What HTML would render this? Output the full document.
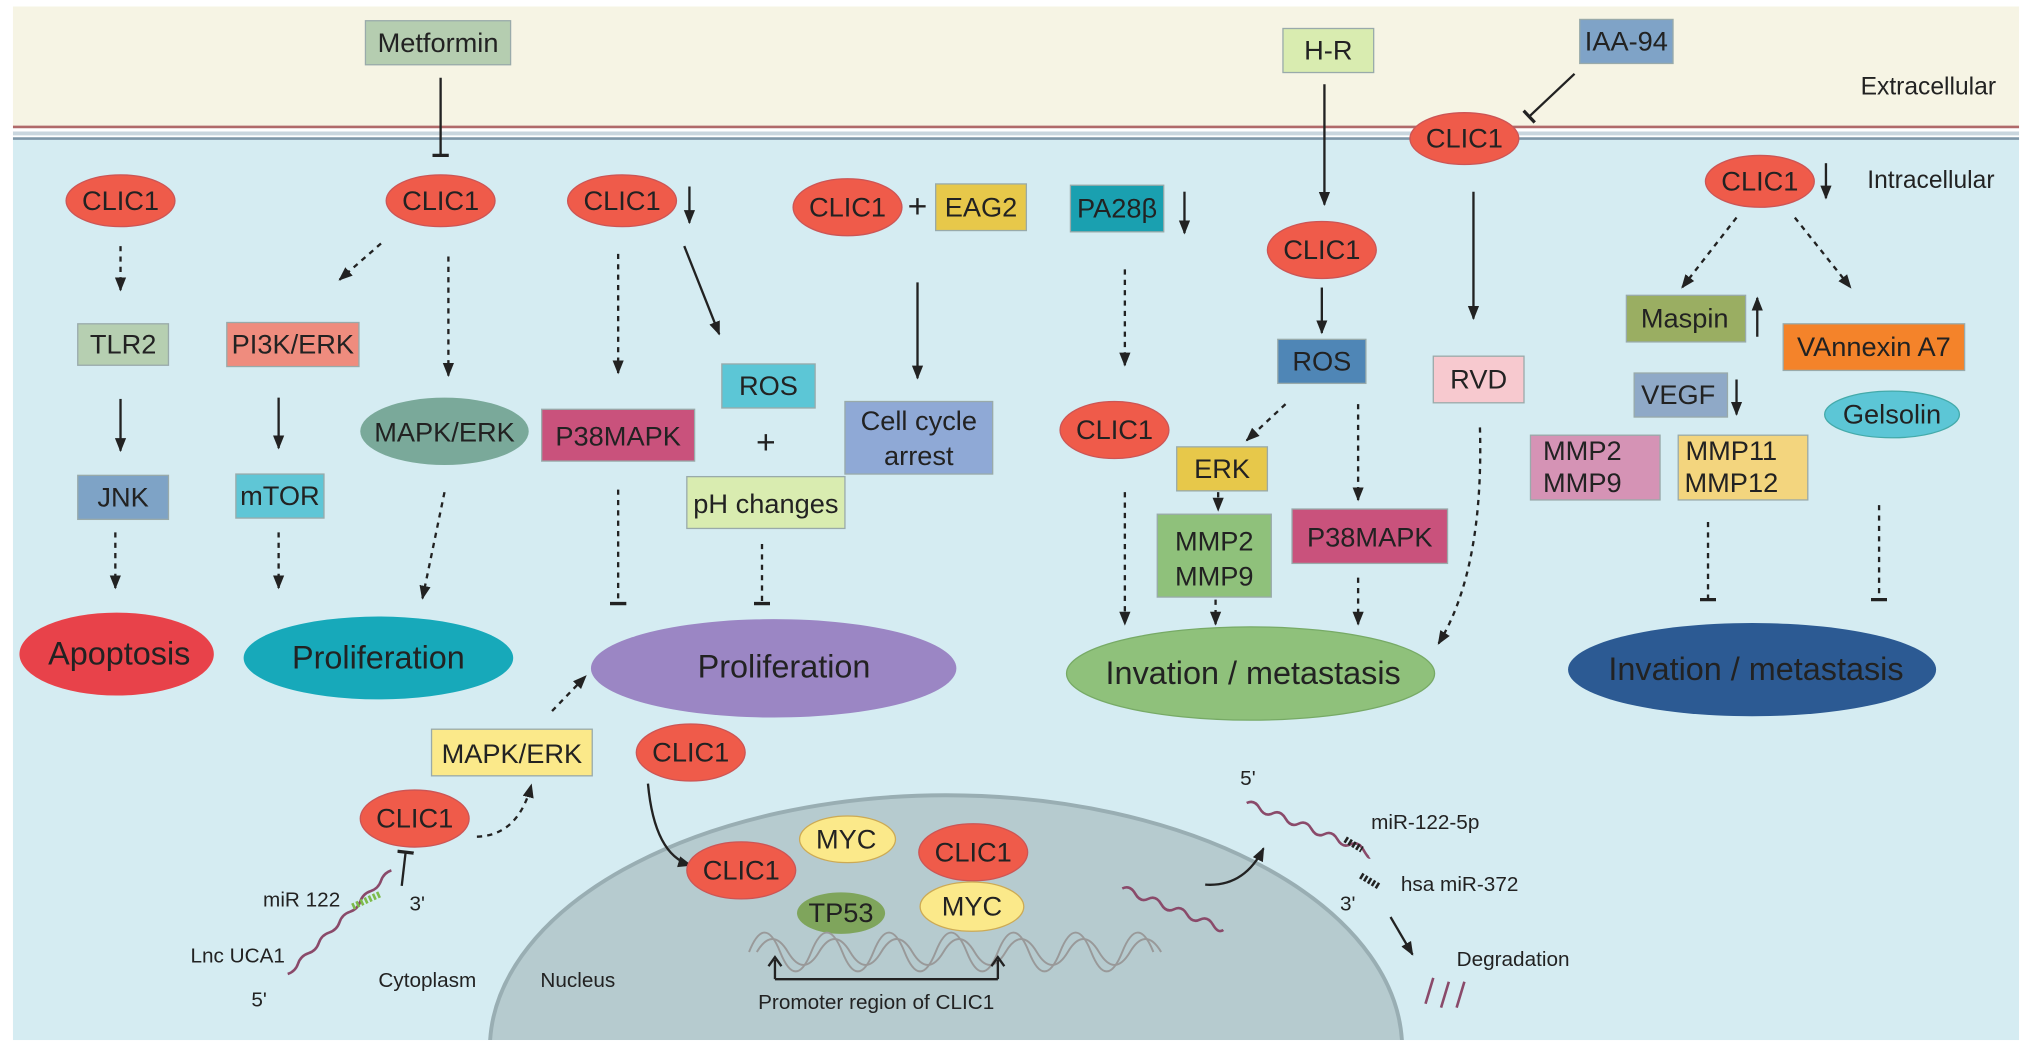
<!DOCTYPE html>
<html><head><meta charset="utf-8"><style>
html,body{margin:0;padding:0;background:#fff;width:2032px;height:1053px;overflow:hidden;}
svg{display:block;}
text{font-family:"Liberation Sans",Arial,sans-serif;fill:#222;}
</style></head><body>
<svg width="2032" height="1053" viewBox="0 0 1568 813" preserveAspectRatio="none" xmlns="http://www.w3.org/2000/svg">
<defs>
<marker id="ah" viewBox="0 0 10 10" refX="9" refY="5" markerWidth="6" markerHeight="6" orient="auto-start-reverse"><path d="M0,1 L10,5 L0,9 z" fill="#222"/></marker>
<marker id="tb" viewBox="0 0 10 10" refX="5" refY="5" markerWidth="7" markerHeight="7" orient="auto"><path d="M5,0 L5,10" stroke="#222" stroke-width="2"/></marker>
<clipPath id="cp"><rect x="10" y="107" width="1548" height="696"/></clipPath>
</defs>
<rect x="0" y="0" width="1568" height="813" fill="#fff"/>
<rect x="10" y="5" width="1548" height="92" fill="#f6f4e4"/>
<rect x="10" y="107" width="1548" height="696" fill="#d5ecf2"/>
<line x1="10" y1="98" x2="1558" y2="98" stroke="#b06a6a" stroke-width="2"/>
<line x1="10" y1="103" x2="1558" y2="103" stroke="#c9d6de" stroke-width="3"/>
<line x1="10" y1="107" x2="1558" y2="107" stroke="#7f97a8" stroke-width="2"/>
<g clip-path="url(#cp)">
<ellipse cx="730" cy="810" rx="352" ry="196" fill="#b6cbcf" stroke="#99aeb3" stroke-width="3"/>
</g>
<text x="1488" y="73" font-size="19" text-anchor="middle">Extracellular</text>
<text x="1490" y="145" font-size="19" text-anchor="middle">Intracellular</text>

<g stroke="#222" stroke-width="1.8" fill="none">
<line x1="340" y1="60" x2="340" y2="120" marker-end="url(#tb)"/>
<line x1="1022" y1="65" x2="1022" y2="158" marker-end="url(#ah)"/>
<line x1="1215" y1="57" x2="1180" y2="90" marker-end="url(#tb)"/>
<line x1="93" y1="308" x2="93" y2="348" marker-end="url(#ah)"/>
<line x1="215" y1="307" x2="215" y2="346" marker-end="url(#ah)"/>
<line x1="528" y1="190" x2="555" y2="258" marker-end="url(#ah)"/>
<line x1="708" y1="218" x2="708" y2="292" marker-end="url(#ah)"/>
<line x1="1020" y1="222" x2="1020" y2="257" marker-end="url(#ah)"/>
<line x1="1137" y1="148" x2="1137" y2="246" marker-end="url(#ah)"/>
<path d="M500,605 Q505,660 533,668" marker-end="url(#ah)"/>
<path d="M930,683 Q960,685 975,655" marker-end="url(#ah)"/>
<line x1="1073" y1="708" x2="1090" y2="737" marker-end="url(#ah)"/>
<line x1="310" y1="684" x2="313" y2="658" marker-end="url(#tb)"/>
<line x1="532" y1="144" x2="532" y2="172" marker-end="url(#ah)"/>
<line x1="914" y1="148" x2="914" y2="180" marker-end="url(#ah)"/>
<line x1="1409" y1="126" x2="1409" y2="153" marker-end="url(#ah)"/>
<line x1="1356" y1="260" x2="1356" y2="230" marker-end="url(#ah)"/>
<line x1="1340" y1="293" x2="1340" y2="320" marker-end="url(#ah)"/>
<line x1="1266" y1="347" x2="1266" y2="375" marker-end="url(#ah)"/>
<line x1="1386" y1="345" x2="1386" y2="375" marker-end="url(#ah)"/>
</g>
<g stroke="#222" stroke-width="1.8" fill="none" stroke-dasharray="4,4">
<line x1="93" y1="190" x2="93" y2="224" marker-end="url(#ah)"/>
<line x1="89" y1="411" x2="89" y2="454" marker-end="url(#ah)"/>
<line x1="294" y1="188" x2="262" y2="216" marker-end="url(#ah)"/>
<line x1="346" y1="198" x2="346" y2="290" marker-end="url(#ah)"/>
<line x1="215" y1="411" x2="215" y2="454" marker-end="url(#ah)"/>
<line x1="343" y1="380" x2="326" y2="462" marker-end="url(#ah)"/>
<line x1="477" y1="196" x2="477" y2="288" marker-end="url(#ah)"/>
<line x1="477" y1="378" x2="477" y2="466" marker-end="url(#tb)"/>
<line x1="588" y1="420" x2="588" y2="466" marker-end="url(#tb)"/>
<line x1="868" y1="208" x2="868" y2="282" marker-end="url(#ah)"/>
<line x1="868" y1="380" x2="868" y2="482" marker-end="url(#ah)"/>
<line x1="992" y1="312" x2="962" y2="340" marker-end="url(#ah)"/>
<line x1="1048" y1="312" x2="1048" y2="386" marker-end="url(#ah)"/>
<line x1="940" y1="380" x2="940" y2="394" marker-end="url(#ah)"/>
<line x1="938" y1="463" x2="938" y2="482" marker-end="url(#ah)"/>
<line x1="1048" y1="446" x2="1048" y2="482" marker-end="url(#ah)"/>
<path d="M1142,330 Q1145,440 1110,497" marker-end="url(#ah)"/>
<line x1="1340" y1="168" x2="1298" y2="222" marker-end="url(#ah)"/>
<line x1="1385" y1="168" x2="1428" y2="222" marker-end="url(#ah)"/>
<line x1="1318" y1="403" x2="1318" y2="463" marker-end="url(#tb)"/>
<line x1="1450" y1="390" x2="1450" y2="463" marker-end="url(#tb)"/>
<line x1="426" y1="549" x2="452" y2="522" marker-end="url(#ah)"/>
<path d="M368,646 Q400,645 410,606" marker-end="url(#ah)"/>
</g>

<g stroke="#9aa" stroke-width="1">
<rect x="282" y="16" width="112" height="34" fill="#b5cdb0"/>
<rect x="990" y="22" width="70" height="34" fill="#d9ecb0"/>
<rect x="1219" y="15" width="72" height="34" fill="#7fa3c7"/>
<rect x="60" y="250" width="70" height="32" fill="#b6cfb1"/>
<rect x="60" y="367" width="70" height="34" fill="#7ea3c6"/>
<rect x="175" y="249" width="102" height="34" fill="#ef8c7e"/>
<rect x="182" y="366" width="68" height="34" fill="#5fc6d6"/>
<rect x="418" y="316" width="118" height="40" fill="#c9527c"/>
<rect x="557" y="281" width="72" height="34" fill="#5cc6d6"/>
<rect x="530" y="368" width="122" height="40" fill="#d9ecb0"/>
<rect x="722" y="142" width="70" height="36" fill="#e7c84a"/>
<rect x="652" y="310" width="114" height="56" fill="#8fa9d6"/>
<rect x="826" y="143" width="72" height="36" fill="#1aa0b0"/>
<rect x="986" y="262" width="68" height="34" fill="#4f86b6"/>
<rect x="908" y="345" width="70" height="34" fill="#e7c84a"/>
<rect x="997" y="393" width="120" height="42" fill="#c9527c"/>
<rect x="893" y="397" width="88" height="64" fill="#8fc17b"/>
<rect x="1106" y="275" width="70" height="36" fill="#f7c9cf"/>
<rect x="1255" y="228" width="92" height="36" fill="#9aae62"/>
<rect x="1376" y="250" width="140" height="36" fill="#f4832a"/>
<rect x="1261" y="288" width="72" height="34" fill="#8fa9c7"/>
<rect x="1181" y="336" width="100" height="50" fill="#d593b5"/>
<rect x="1295" y="336" width="100" height="50" fill="#f3d57e"/>
<rect x="333" y="563" width="124" height="36" fill="#fbe98a"/>
</g>
<g stroke="#c55" stroke-width="1" fill="#ef5b4a">
<ellipse cx="1130" cy="107" rx="42" ry="20"/>
<ellipse cx="93" cy="155" rx="42" ry="20"/>
<ellipse cx="340" cy="155" rx="42" ry="20"/>
<ellipse cx="480" cy="155" rx="42" ry="20"/>
<ellipse cx="654" cy="160" rx="42" ry="22"/>
<ellipse cx="1020" cy="193" rx="42" ry="22"/>
<ellipse cx="860" cy="332" rx="42" ry="22"/>
<ellipse cx="1358" cy="140" rx="42" ry="20"/>
<ellipse cx="320" cy="632" rx="42" ry="22"/>
<ellipse cx="533" cy="581" rx="42" ry="22"/>
<ellipse cx="572" cy="672" rx="42" ry="22"/>
<ellipse cx="751" cy="658" rx="42" ry="22"/>
</g>
<ellipse cx="343" cy="333" rx="65" ry="26" fill="#7aa99a"/>
<ellipse cx="1460" cy="320" rx="52" ry="18" fill="#5cc6d6" stroke="#4aa" />
<ellipse cx="654" cy="648" rx="37" ry="18" fill="#fbe98a" stroke="#ca5"/>
<ellipse cx="750" cy="700" rx="40" ry="19" fill="#fbe98a" stroke="#ca5"/>
<ellipse cx="649" cy="705" rx="34" ry="16" fill="#7fa55c"/>
<ellipse cx="90" cy="505" rx="75" ry="32" fill="#e8424a"/>
<ellipse cx="292" cy="508" rx="104" ry="32" fill="#17a9ba"/>
<ellipse cx="597" cy="516" rx="141" ry="38" fill="#9b86c4"/>
<ellipse cx="965" cy="520" rx="142" ry="36" fill="#8fc17b" stroke="#7a6" />
<ellipse cx="1352" cy="517" rx="142" ry="36" fill="#2c5a93"/>

<g stroke="#999" stroke-width="1.5" fill="none">
<path d="M578,735 Q590,705 602,735 T626,735 T650,735 T674,735 T698,735 T722,735 T746,735 T770,735 T794,735 T818,735 T842,735 T866,735 T890,735"/>
<path d="M584,735 Q596,715 608,735 T632,735 T656,735 T680,735 T704,735 T728,735 T752,735 T776,735 T800,735 T824,735 T848,735 T872,735 T896,735"/>
</g>
<path d="M598,756 V741 M770,756 V741 M598,756 H770" stroke="#222" stroke-width="1.8" fill="none"/>
<path d="M593,746 L598,739 L603,746 M765,746 L770,739 L775,746" stroke="#222" stroke-width="1.8" fill="none"/>
<g stroke="#8a4a6a" stroke-width="2" fill="none">
<path d="M222,752 q6,-2 8,-8 t8,-8 t8,-8 t8,-8 t8,-8 t8,-8 t8,-8 t8,-8 t8,-8 t8,-8"/>
<path d="M866,686 q6,-3 10,4 t10,4 t10,4 t10,4 t10,4 t10,4 t10,4 t8,4"/>
<path d="M962,620 q6,-3 10,4 t10,4 t10,4 t10,4 t10,4 t10,4 t10,4 t10,4 t10,4 t5,6"/>
<path d="M1100,775 L1106,755 M1112,778 L1118,758 M1124,778 L1130,758"/>
</g>
<path d="M272,700 l22,-10" stroke="#7dbb4a" stroke-width="5" stroke-dasharray="2,1.5"/>
<path d="M1038,648 l13,8 M1050,676 l15,9" stroke="#222" stroke-width="5" stroke-dasharray="2,1.5"/>

<g font-size="21" text-anchor="middle">
<text x="338" y="40">Metformin</text>
<text x="1025" y="46">H-R</text>
<text x="1255" y="39">IAA-94</text>
<text x="1130" y="114">CLIC1</text>
<text x="93" y="162">CLIC1</text>
<text x="340" y="162">CLIC1</text>
<text x="480" y="162">CLIC1</text>
<text x="654" y="167">CLIC1</text>
<text x="708" y="168" font-size="26">+</text>
<text x="757" y="167">EAG2</text>
<text x="862" y="168">PA28β</text>
<text x="1020" y="200">CLIC1</text>
<text x="1358" y="147">CLIC1</text>
<text x="95" y="273">TLR2</text>
<text x="95" y="391">JNK</text>
<text x="226" y="273">PI3K/ERK</text>
<text x="216" y="390">mTOR</text>
<text x="343" y="341">MAPK/ERK</text>
<text x="477" y="344">P38MAPK</text>
<text x="593" y="305">ROS</text>
<text x="591" y="350" font-size="26">+</text>
<text x="591" y="396">pH changes</text>
<text x="709" y="332">Cell cycle</text>
<text x="709" y="359">arrest</text>
<text x="860" y="339">CLIC1</text>
<text x="1020" y="286">ROS</text>
<text x="943" y="369">ERK</text>
<text x="937" y="425">MMP2</text>
<text x="937" y="452">MMP9</text>
<text x="1057" y="422">P38MAPK</text>
<text x="1141" y="300">RVD</text>
<text x="1300" y="253">Maspin</text>
<text x="1446" y="275">VAnnexin A7</text>
<text x="1295" y="312">VEGF</text>
<text x="1460" y="327">Gelsolin</text>
<text x="1221" y="355">MMP2</text>
<text x="1221" y="380">MMP9</text>
<text x="1336" y="355">MMP11</text>
<text x="1336" y="380">MMP12</text>
<text x="395" y="589">MAPK/ERK</text>
<text x="320" y="639">CLIC1</text>
<text x="533" y="588">CLIC1</text>
<text x="572" y="679">CLIC1</text>
<text x="751" y="665">CLIC1</text>
<text x="653" y="655">MYC</text>
<text x="750" y="707">MYC</text>
<text x="649" y="712">TP53</text>
</g>
<g font-size="25" text-anchor="middle">
<text x="92" y="513">Apoptosis</text>
<text x="292" y="516">Proliferation</text>
<text x="605" y="523">Proliferation</text>
<text x="967" y="528">Invation / metastasis</text>
<text x="1355" y="525">Invation / metastasis</text>
</g>
<g font-size="16">
<text x="203" y="700">miR 122</text>
<text x="316" y="703">3'</text>
<text x="147" y="743">Lnc UCA1</text>
<text x="194" y="777">5'</text>
<text x="292" y="762">Cytoplasm</text>
<text x="417" y="762">Nucleus</text>
<text x="585" y="779">Promoter region of CLIC1</text>
<text x="957" y="606">5'</text>
<text x="1058" y="640">miR-122-5p</text>
<text x="1081" y="688">hsa miR-372</text>
<text x="1034" y="703">3'</text>
<text x="1124" y="746">Degradation</text>
</g>
</svg>
</body></html>
